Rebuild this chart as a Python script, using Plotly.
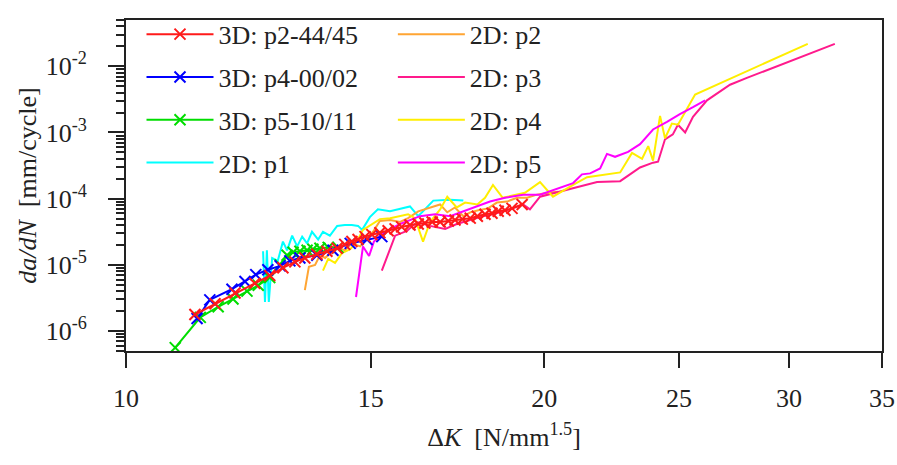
import plotly.graph_objects as go

# ---------------- data (ΔK [N/mm^1.5], da/dN [mm/cycle]) ----------------
p2_3d_x = [11.21, 11.59, 11.98, 12.38, 12.69, 12.97, 13.23, 13.45, 13.72, 13.95, 14.19, 14.37,
           14.54, 14.69, 14.86, 15.03, 15.23, 15.44, 15.62, 15.79, 16.01, 16.23, 16.41, 16.61,
           16.83, 17.06, 17.25, 17.46, 17.69, 17.90, 18.13, 18.34, 18.53, 18.74, 18.96, 19.28]
p2_3d_y = [1.78e-6, 2.58e-6, 3.75e-6, 5.26e-6, 6.89e-6, 9.04e-6, 1.11e-5, 1.27e-5, 1.45e-5, 1.61e-5,
           1.78e-5, 2.04e-5, 2.25e-5, 2.41e-5, 2.67e-5, 2.86e-5, 3.06e-5, 3.27e-5, 3.50e-5, 3.75e-5,
           4.01e-5, 4.15e-5, 4.29e-5, 4.44e-5, 4.44e-5, 4.59e-5, 4.75e-5, 4.91e-5, 5.08e-5, 5.44e-5,
           5.82e-5, 6.01e-5, 6.44e-5, 6.67e-5, 7.13e-5, 8.17e-5]

p4_3d_x = [11.25, 11.49, 11.92, 12.18, 12.40, 12.65, 12.91, 13.12, 13.34, 13.72, 14.09, 14.50, 14.91, 15.28]
p4_3d_y = [1.55e-6, 2.96e-6, 4.29e-6, 5.62e-6, 7.13e-6, 8.44e-6, 9.67e-6, 1.15e-5, 1.27e-5, 1.40e-5,
           1.66e-5, 2.11e-5, 2.41e-5, 2.67e-5]

p5_3d_x = [10.85, 11.31, 11.65, 11.94, 12.22, 12.45, 12.69, 12.91, 13.06, 13.19, 13.34, 13.50,
           13.63, 13.79, 13.98, 14.21]
p5_3d_y = [5.62e-7, 1.61e-6, 2.33e-6, 3.06e-6, 4.01e-6, 4.91e-6, 6.44e-6, 1.0e-5, 1.40e-5, 1.55e-5,
           1.61e-5, 1.66e-5, 1.72e-5, 1.78e-5, 1.84e-5, 1.84e-5]

p1_2d_x = [12.55, 12.59, 12.63, 12.67, 12.74, 12.86, 12.97, 13.06, 13.17, 13.28, 13.39, 13.50, 13.61,
           13.75, 13.86, 14.02, 14.19, 14.37, 14.54, 14.69, 14.79, 14.98, 15.18, 15.49, 16.01, 16.23,
           16.64, 17.11, 17.49]
p1_2d_y = [1.61e-5, 2.76e-6, 1.66e-5, 2.76e-6, 1.27e-5, 1.15e-5, 2.25e-5, 1.66e-5, 2.76e-5, 1.90e-5,
           2.67e-5, 2.11e-5, 3.16e-5, 2.41e-5, 3.16e-5, 2.76e-5, 3.88e-5, 4.01e-5, 4.01e-5, 3.88e-5,
           3.38e-5, 5.26e-5, 6.89e-5, 6.44e-5, 7.63e-5, 5.44e-5, 9.35e-5, 9.67e-5, 9.35e-5]

p2_2d_x = [13.45, 13.54, 13.68, 13.79, 13.91, 14.02, 14.21, 14.37, 14.54, 14.74, 14.88, 15.06, 15.23,
           15.49, 15.75, 15.96, 16.23, 16.50, 16.83, 17.03, 17.25, 17.49, 17.69, 17.93, 18.22, 18.49,
           18.80, 19.12, 19.44, 19.76, 20.12, 20.46]
p2_2d_y = [4.15e-6, 9.35e-6, 1.0e-5, 1.40e-5, 1.27e-5, 1.50e-5, 1.84e-5, 1.66e-5, 2.11e-5, 1.90e-5,
           2.41e-5, 3.16e-5, 4.59e-5, 4.75e-5, 4.44e-5, 5.08e-5, 6.44e-5, 7.13e-5, 8.17e-5, 6.22e-5,
           7.37e-5, 5.44e-5, 6.22e-5, 6.67e-5, 7.13e-5, 8.74e-5, 9.04e-5, 1.03e-4, 1.03e-4, 1.15e-4,
           1.23e-4, 1.27e-4]

p3_2d_x = [15.28, 15.62, 15.93, 16.20, 16.55, 16.97, 17.30, 17.69, 18.06, 18.37, 18.89, 19.31, 19.53,
           19.86, 20.98, 21.83, 22.68, 23.44, 23.95, 24.15, 24.43, 24.75, 24.96, 25.26, 25.59, 26.19,
           27.21, 27.98, 32.37]
p3_2d_y = [8.17e-6, 2.76e-5, 3.27e-5, 4.44e-5, 3.88e-5, 3.50e-5, 4.15e-5, 4.75e-5, 5.44e-5, 5.82e-5,
           6.89e-5, 8.17e-5, 6.89e-5, 1.07e-4, 1.45e-4, 1.78e-4, 1.84e-4, 2.96e-4, 3.50e-4, 3.62e-4,
           7.89e-4, 9.35e-4, 1.31e-3, 1.0e-3, 1.72e-3, 3.06e-3, 5.26e-3, 6.67e-3, 2.18e-2]

p4_2d_x = [13.86, 13.98, 14.14, 14.30, 14.50, 14.66, 14.81, 15.03, 15.23, 15.49, 15.75, 15.96, 16.14,
           16.36, 16.55, 16.83, 17.03, 17.30, 17.54, 17.90, 18.13, 18.37, 18.67, 19.05, 19.37, 19.86,
           20.29, 20.98, 21.47, 22.68, 23.13, 23.52, 23.76, 23.95, 24.23, 24.43, 24.71, 24.96, 25.68,
           30.95]
p4_2d_y = [8.17e-6, 1.23e-5, 1.07e-5, 1.50e-5, 1.72e-5, 2.25e-5, 3.38e-5, 4.15e-5, 4.91e-5, 5.08e-5,
           5.44e-5, 5.82e-5, 5.08e-5, 2.25e-5, 4.44e-5, 6.89e-5, 1.07e-4, 7.37e-5, 8.74e-5, 8.17e-5,
           1.03e-4, 1.61e-4, 1.03e-4, 1.15e-4, 1.23e-4, 1.78e-4, 1.07e-4, 1.61e-4, 2.11e-4, 2.49e-4,
           4.91e-4, 4.01e-4, 6.22e-4, 3.75e-4, 1.78e-3, 8.17e-4, 1.36e-3, 1.31e-3, 3.75e-3, 2.18e-2]

p5_2d_x = [14.64, 14.81, 14.96, 15.08, 15.36, 15.75, 16.28, 16.69, 17.11, 17.49, 17.83, 18.28, 18.74,
           19.31, 19.86, 20.98, 21.29, 21.58, 21.94, 22.19, 22.49, 22.98, 23.44, 23.95, 24.51, 25.04,
           25.59, 26.11]
p5_2d_y = [3.27e-6, 1.90e-5, 1.36e-5, 2.25e-5, 3.16e-5, 4.15e-5, 5.44e-5, 5.82e-5, 5.44e-5, 6.44e-5,
           7.37e-5, 9.04e-5, 1.03e-4, 1.15e-4, 1.15e-4, 1.72e-4, 2.33e-4, 2.41e-4, 2.86e-4, 4.75e-4,
           4.29e-4, 5.08e-4, 6.67e-4, 1.11e-3, 1.45e-3, 1.90e-3, 2.41e-3, 3.06e-3]

x_ticks = [10, 15, 20, 25, 30, 35]
y_ticks = [1e-6, 1e-5, 1e-4, 1e-3, 1e-2]
y_ticktext = ["10<sup>-6</sup>", "10<sup>-5</sup>", "10<sup>-4</sup>", "10<sup>-3</sup>", "10<sup>-2</sup>"]
y_minor = [m * 10.0 ** e for e in range(-7, -1) for m in range(2, 10)]

FONT = "Liberation Serif, Times New Roman, serif"

fig = go.Figure()

# 2D curves (drawn first)
two_d = [
    ("2D: p1", p1_2d_x, p1_2d_y, "#00ffff", "legend", 4),
    ("2D: p2", p2_2d_x, p2_2d_y, "#ffa533", "legend2", 5),
    ("2D: p3", p3_2d_x, p3_2d_y, "#ff1a8c", "legend2", 6),
    ("2D: p4", p4_2d_x, p4_2d_y, "#ffee00", "legend2", 7),
    ("2D: p5", p5_2d_x, p5_2d_y, "#ff00ff", "legend2", 8),
]
for name, xs, ys, col, leg, rank in two_d:
    fig.add_trace(go.Scatter(x=xs, y=ys, mode="lines", name=name,
                             line=dict(color=col, width=2), legend=leg,
                             legendrank=rank, legendgroup=name))

three_d = [
    ("3D: p5-10/11", p5_3d_x, p5_3d_y, "#00dd00", 3),
    ("3D: p4-00/02", p4_3d_x, p4_3d_y, "#0000ff", 2),
    ("3D: p2-44/45", p2_3d_x, p2_3d_y, "#ff1a1a", 1),
]
for name, xs, ys, col, rank in three_d:
    fig.add_trace(go.Scatter(x=xs, y=ys, mode="lines+markers", name=name,
                             line=dict(color=col, width=2),
                             marker=dict(symbol="x-thin", size=11, line=dict(color=col, width=2)),
                             legend="legend", legendrank=rank, legendgroup=name))

legend_common = dict(font=dict(family=FONT, size=26, color="#222"), bgcolor="rgba(0,0,0,0)",
                     borderwidth=0, yanchor="top", y=1.028, xanchor="left",
                     tracegroupgap=6, traceorder="grouped", itemwidth=67)

fig.update_layout(
    width=897, height=465,
    margin=dict(l=126, r=15, t=11, b=114),
    paper_bgcolor="white", plot_bgcolor="white",
    font=dict(family=FONT, size=26, color="#222"),
    showlegend=True,
    legend=dict(x=0.0205, **legend_common),
    legend2=dict(x=0.353, **legend_common),
    xaxis=dict(
        type="log", range=[1, 1.5441], tickmode="array", tickvals=x_ticks,
        ticktext=[str(v) for v in x_ticks], automargin=False,
        ticks="outside", ticklen=15, tickwidth=2, tickcolor="#222",
        showline=True, linecolor="#222", linewidth=2, mirror=True,
        showgrid=False, zeroline=False, ticklabelstandoff=8,
        tickfont=dict(family=FONT, size=26, color="#222"),
        title=dict(text="Δ<i>K</i>\u00a0\u00a0[N/mm<sup>1.5</sup>]", standoff=16,
                   font=dict(family=FONT, size=26, color="#222")),
    ),
    yaxis=dict(
        type="log", range=[-6.301, -1.301], tickmode="array", tickvals=y_ticks,
        ticktext=y_ticktext, automargin=False,
        ticks="outside", ticklen=16, tickwidth=2, tickcolor="#222",
        minor=dict(tickmode="array", tickvals=y_minor, ticks="outside", ticklen=8,
                   tickwidth=1.5, tickcolor="#222", showgrid=False),
        showline=True, linecolor="#222", linewidth=2, mirror=True,
        showgrid=False, zeroline=False, ticklabelstandoff=16,
        tickfont=dict(family=FONT, size=26, color="#222"),
        title=dict(text="<i>da/dN</i>\u00a0\u00a0[mm/cycle]", standoff=2,
                   font=dict(family=FONT, size=26, color="#222")),
    ),
)

fig.write_html("out.html", config={"displayModeBar": False},
               post_script="document.body.style.margin='0';document.body.style.overflow='hidden';")
